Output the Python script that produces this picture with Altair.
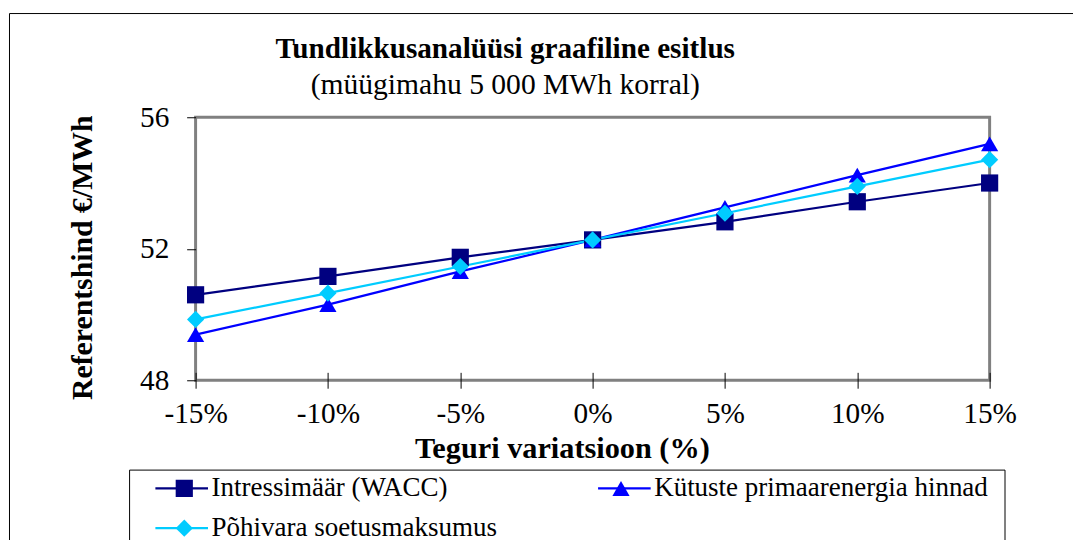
import altair as alt
import pandas as pd

categories = ["-15%", "-10%", "-5%", "0%", "5%", "10%", "15%"]
series_names = ["Intressimäär (WACC)", "Kütuste primaarenergia hinnad", "Põhivara soetusmaksumus"]
wacc = [50.60, 51.16, 51.74, 52.27, 52.82, 53.43, 54.00]
fuel = [49.39, 50.30, 51.31, 52.27, 53.26, 54.24, 55.19]
asset = [49.85, 50.65, 51.46, 52.27, 53.08, 53.90, 54.71]
y_ticks = [48, 52, 56]
colors = ["#000080", "#0000FF", "#00CCFF"]
shapes = ["square", "triangle-up", "diamond"]

rows = []
for name, vals in zip(series_names, [wacc, fuel, asset]):
    for c, v in zip(categories, vals):
        rows.append({"cat": c, "value": v, "series": name, "series2": name})
df = pd.DataFrame(rows)

FONT = "Liberation Serif"

x_enc = alt.X("cat:O", sort=categories,
              scale=alt.Scale(type="point", padding=0),
              axis=alt.Axis(title="Teguri variatsioon (%)", labelAngle=0, domain=False,
                            offset=-8, tickColor="black", tickSize=16, tickWidth=1,
                            labelFontSize=29.5, labelPadding=12, labelColor="black",
                            titleFontSize=30.5, titleFontWeight="bold", titleColor="black",
                            titlePadding=5, titleX=369, grid=False))
y_enc = alt.Y("value:Q", scale=alt.Scale(domain=[48, 56], nice=False, zero=False),
              axis=alt.Axis(title="Referentshind €/MWh", values=y_ticks, domain=False,
                            tickColor="black", tickSize=9, tickWidth=1,
                            labelFontSize=29.5, labelPadding=18, labelColor="black",
                            titleFontSize=30, titleFontWeight="bold", titleColor="black",
                            titlePadding=42, titleY=141, grid=False))

base = alt.Chart(df)
one_row = pd.DataFrame({"k": [0]})

# outer chart border
frame = alt.Chart(one_row).mark_rect(
    fill="white", fillOpacity=0, stroke="black", strokeWidth=1
).encode(x=alt.value(-187.5), x2=alt.value(900), y=alt.value(-104.5), y2=alt.value(470))

# legend box border
legend_box = alt.Chart(one_row).mark_rect(
    fill="white", fillOpacity=0, stroke="black", strokeWidth=1
).encode(x=alt.value(-66.5), x2=alt.value(815.5), y=alt.value(355.5), y2=alt.value(470))

common = dict(orient="none", legendX=-67, legendY=355, direction="horizontal", title=None,
              padding=4, columns=2, rowPadding=10, clipHeight=30,
              labelFont=FONT, labelLimit=700)

line_legend = alt.Legend(symbolType="stroke", symbolSize=2809, symbolStrokeWidth=2.25,
                         symbolOffset=21, labelOffset=2,
                         labelColor="black", labelFontSize=27.2, columnPadding=79,
                         **common)

marker_legend = alt.Legend(symbolSize=300, symbolStrokeWidth=0,
                           symbolOffset=38, labelOffset=11, labelFontSize=27.2,
                           labelExpr="''", columnPadding=363, **common)

lines = base.mark_line(strokeWidth=2.25).encode(
    x=x_enc, y=y_enc,
    color=alt.Color("series:N", scale=alt.Scale(range=colors), legend=line_legend),
)

points = base.mark_point(filled=True, size=300, opacity=1).encode(
    x=x_enc, y=y_enc,
    fill=alt.Fill("series2:N", scale=alt.Scale(range=colors), legend=marker_legend),
    shape=alt.Shape("series2:N", scale=alt.Scale(range=shapes), legend=marker_legend),
)

chart = alt.layer(frame, legend_box, lines, points).properties(
    width=800, height=265,
    autosize=alt.AutoSizeParams(type="none"),
    padding={"left": 189, "top": 108, "right": 84, "bottom": 180},
    title=alt.TitleParams(text="Tundlikkusanalüüsi graafiline esitlus",
                          subtitle="(müügimahu 5 000 MWh korral)",
                          font=FONT, fontSize=29.4, fontWeight="bold", color="black",
                          subtitleFont=FONT, subtitleFontSize=29.8, subtitleColor="black",
                          subtitlePadding=5, anchor="middle", frame="group",
                          dx=-88, dy=100, offset=12),
).configure(background="white", font=FONT).configure_view(
    stroke="#808080", strokeWidth=3
)

chart.save("out.html", embed_options={"renderer": "svg", "actions": False})
